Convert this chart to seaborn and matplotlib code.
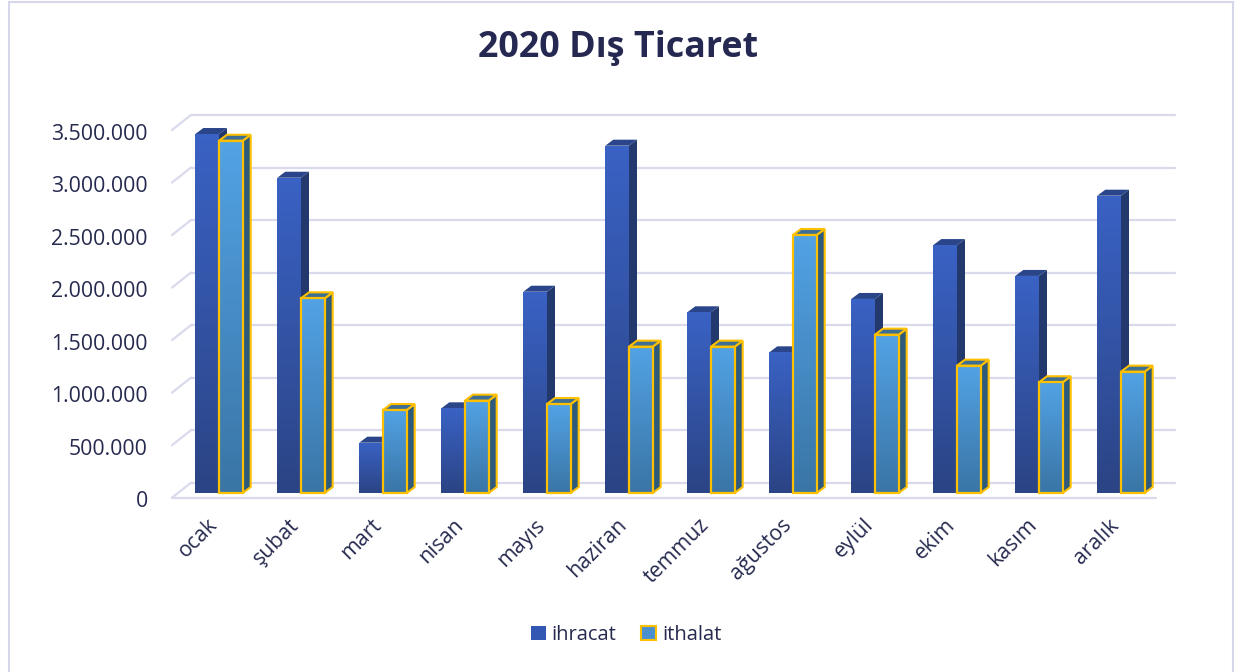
import numpy as np
import pandas as pd
import seaborn as sns
import matplotlib.pyplot as plt
from matplotlib.patches import Polygon, Rectangle, Patch
from matplotlib.colors import LinearSegmentedColormap
from matplotlib.transforms import ScaledTranslation

sns.set_style('white')
plt.rcParams['font.family'] = ['Open Sans', 'DejaVu Sans']

months = ['ocak', 'şubat', 'mart', 'nisan', 'mayıs', 'haziran',
          'temmuz', 'ağustos', 'eylül', 'ekim', 'kasım', 'aralık']
ihracat = [3417000, 3001000, 479000, 806000, 1916000, 3306000,
           1720000, 1339000, 1847000, 2360000, 2066000, 2830000]
ithalat = [3353000, 1853000, 790000, 879000, 847000, 1393000,
           1393000, 2456000, 1507000, 1212000, 1054000, 1155000]
yticks = [0, 500000, 1000000, 1500000, 2000000, 2500000, 3000000, 3500000]
series = ['ihracat', 'ithalat']

df = pd.DataFrame({'ay': months * 2,
                   'seri': ['ihracat'] * 12 + ['ithalat'] * 12,
                   'deger': ihracat + ithalat})

W, H = 1236, 672
fig = plt.figure(figsize=(W / 100, H / 100), dpi=100)
ax = fig.add_axes([178 / W, 179 / H, 984 / W, 367.7 / H])

txt = '#262A4F'
grid_c = '#D9DAEC'
front_cols = {'ihracat': ('#3A62C4', '#2B4485'), 'ithalat': ('#52A2E4', '#3A75A6')}
side_cols = {'ihracat': '#23396E', 'ithalat': '#2E5A7B'}
top_cols = {'ihracat': '#2A4589', 'ithalat': '#3D6F95'}
edge_cols = {'ihracat': 'none', 'ithalat': '#FFC000'}

sns.barplot(data=df, x='ay', y='deger', hue='seri', order=months, hue_order=series,
            width=0.578, palette=['#3355AA', '#4A90D0'], legend=False, ax=ax,
            saturation=1, linewidth=0)

ax.set_xlim(-0.5, 11.5)
ax.set_ylim(0, 3500000)
ax.axis('off')

# 3D offsets in pixels, converted to data units
px_x = 12 / 984
px_y = 3500000 / 367.7
dxd, dyd = 8 * px_x, 6 * px_y

# back wall gridlines and floor
back = ScaledTranslation(13 / 100, 10.3 / 100, fig.dpi_scale_trans)
front = ScaledTranslation(-6 / 100, -4.7 / 100, fig.dpi_scale_trans)
for v in yticks:
    ax.plot([-0.5, 11.5], [v, v], color=grid_c, lw=1.6, zorder=0, clip_on=False,
            transform=ax.transData + back)
    # diagonal on the left side
    p_front = (ax.transData + front).transform((-0.5, v))
    p_back = (ax.transData + back).transform((-0.5, v))
    fig.add_artist(plt.Line2D([p_front[0] / W, p_back[0] / W], [p_front[1] / H, p_back[1] / H],
                              color=grid_c, lw=1.6, zorder=0))
    ax.text(0, v, f'{v:,}'.replace(',', '.'), transform=ax.get_yaxis_transform() + front +
            ScaledTranslation(-24 / 100, -4 / 100, fig.dpi_scale_trans),
            ha='right', va='center', fontsize=15.3, color=txt)
ax.plot([-0.5, 11.5], [0, 0], color=grid_c, lw=1.6, zorder=0, clip_on=False,
        transform=ax.transData + front)

# 3D bars: gradient front faces, side and top faces
for k, (name, cont) in enumerate(zip(series, ax.containers)):
    cmap = LinearSegmentedColormap.from_list(name, [front_cols[name][1], front_cols[name][0]])
    zbase = 2 + 3 * k
    for bar in cont:
        x0, w, h = bar.get_x(), bar.get_width(), bar.get_height()
        x1 = x0 + w
        bar.set_facecolor('none')
        bar.set_zorder(zbase + 1)
        side = Polygon([(x1, 0), (x1 + dxd, dyd), (x1 + dxd, h + dyd), (x1, h)],
                       closed=True, facecolor=side_cols[name], edgecolor=edge_cols[name],
                       lw=1.5, zorder=zbase, clip_on=False)
        top = Polygon([(x0, h), (x1, h), (x1 + dxd, h + dyd), (x0 + dxd, h + dyd)],
                      closed=True, facecolor=top_cols[name], edgecolor=edge_cols[name],
                      lw=1.5, zorder=zbase, clip_on=False)
        ax.add_patch(side)
        ax.add_patch(top)
        im = ax.imshow(np.linspace(0, 1, 64).reshape(-1, 1), cmap=cmap, origin='lower',
                       extent=(x0, x1, 0, h), aspect='auto', zorder=zbase + 0.5)
        clip = Rectangle((x0, 0), w, h, transform=ax.transData, facecolor='none')
        im.set_clip_path(clip)
        if name == 'ithalat':
            ax.add_patch(Rectangle((x0, 0), w, h, facecolor='none', edgecolor='#FFC000',
                                   lw=1.6, zorder=zbase + 1, clip_on=False))
ax.set_xlim(-0.5, 11.5)
ax.set_ylim(0, 3500000)

# month labels
for i, m in enumerate(months):
    ax.text(i - 0.06, 0, m, transform=ax.transData +
            ScaledTranslation(0, -29 / 100, fig.dpi_scale_trans),
            rotation=45, rotation_mode='anchor', ha='right', va='center',
            fontsize=15.3, color=txt)

fig.text(0.5, 1 - 48 / H, '2020 Dış Ticaret', ha='center', va='center',
         fontsize=25.8, fontweight='bold', color='#252850')

handles = [Patch(facecolor='#3358B4', edgecolor='none'),
           Patch(facecolor='#4A90D0', edgecolor='#FFC000', lw=1.5)]
fig.legend(handles, series, loc='center', bbox_to_anchor=(626 / W, 1 - 635 / H), ncol=2,
           frameon=False, fontsize=14.5, handlelength=0.75, handleheight=0.75,
           handletextpad=0.3, columnspacing=1.2, labelcolor=txt)

fig.add_artist(Rectangle((8.5 / W, -0.05), (1232.5 - 8.5) / W, 1.05 - 1.5 / H,
                         transform=fig.transFigure, facecolor='none',
                         edgecolor='#D6D6EC', lw=1.5))

fig.savefig('out.png', dpi=100)
